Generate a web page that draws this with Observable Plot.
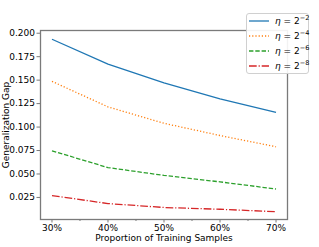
<!DOCTYPE html>
<html>
<head>
<meta charset="utf-8">
<script src="https://cdn.jsdelivr.net/npm/d3@7"></script>
<script src="https://cdn.jsdelivr.net/npm/@observablehq/plot@0.6"></script>
<style>
  body { margin: 0; background: white; }
  #wrap { position: relative; width: 319px; height: 247px; font-family: "DejaVu Sans", sans-serif; }
  #legend { position: absolute; left: 246px; top: 13px; width: 63px; height: 61px; box-sizing: border-box;
    border: 1px solid #d0d0d0; border-radius: 3px; background: rgba(255,255,255,0.9); font-size: 9px; color: #000; }
  .row { position: absolute; left: 2px; height: 14px; display: flex; align-items: center; }
  .row svg { display: block; }
  .lab { margin-left: 6px; white-space: nowrap; }
  .lab i { font-style: italic; }
  .lab sup { font-size: 6.5px; vertical-align: 4px; line-height: 0; }
</style>
</head>
<body>
<div id="wrap"></div>
<script>
const proportions = [30, 40, 50, 60, 70];
const gapEta2 = [0.1936, 0.167, 0.147, 0.130, 0.1156];
const gapEta4 = [0.1487, 0.1215, 0.104, 0.091, 0.079];
const gapEta6 = [0.0747, 0.0568, 0.0485, 0.0416, 0.034];
const gapEta8 = [0.027, 0.0185, 0.0143, 0.0124, 0.0098];
const seriesNames = ["2^-2", "2^-4", "2^-6", "2^-8"];
const seriesExp = ["−2", "−4", "−6", "−8"];
const seriesColors = ["#1f77b4", "#ff7f0e", "#2ca02c", "#d62728"];
const seriesDash = [null, "1.2,2", "4.4,1.9", "7.7,1.9,1.2,1.9"];
const yTicks = [0.025, 0.05, 0.075, 0.1, 0.125, 0.15, 0.175, 0.2];
const xTicks = [30, 40, 50, 60, 70];
const xMinor = [35, 45, 55, 65];

const allSeries = [gapEta2, gapEta4, gapEta6, gapEta8];
const data = [];
allSeries.forEach((vals, i) => vals.forEach((v, j) => data.push({s: seriesNames[i], x: proportions[j], y: v})));

const lineMarks = allSeries.map((vals, i) =>
  Plot.line(data.filter(d => d.s === seriesNames[i]), {
    x: "x", y: "y", stroke: seriesColors[i], strokeWidth: 1.3,
    strokeDasharray: seriesDash[i] || undefined, strokeLinecap: "butt"
  })
);

const axisGrey = "#7a7a7a";
const chart = Plot.plot({
  width: 319, height: 247,
  marginLeft: 40, marginRight: 32, marginTop: 30, marginBottom: 28,
  style: {fontFamily: "DejaVu Sans, sans-serif", fontSize: "9px", color: "#000", background: "white", overflow: "visible"},
  x: {domain: [27.95, 72.05]},
  y: {domain: [0.0015, 0.2029]},
  marks: [
    ...lineMarks,
    Plot.frame({stroke: axisGrey, strokeWidth: 1.3}),
    Plot.axisY({ticks: yTicks, tickFormat: d3.format(".3f"), tickSize: 3.5, tickPadding: 2, label: null, stroke: axisGrey, fill: "#000"}),
    Plot.axisX({ticks: xTicks, tickFormat: d => d + "%", tickSize: 3.5, tickPadding: 2, label: null, stroke: axisGrey, fill: "#000"}),
    Plot.axisX({ticks: xMinor, tickFormat: () => "", tickSize: 2, label: null, stroke: axisGrey}),
    Plot.text(["Generalization Gap"], {frameAnchor: "left", rotate: -90, dx: -34, textAnchor: "middle", lineAnchor: "middle", text: d => d, fill: "#000", fontSize: 9}),
    Plot.text(["Proportion of Training Samples"], {frameAnchor: "bottom", dy: 15, text: d => d, fill: "#000", fontSize: 9, lineAnchor: "top"})
  ]
});
const wrap = document.getElementById("wrap");
wrap.appendChild(chart);

const legend = document.createElement("div");
legend.id = "legend";
seriesNames.forEach((n, i) => {
  const row = document.createElement("div");
  row.className = "row";
  row.style.top = (i * 15 - 0.5) + "px";
  const dash = seriesDash[i] ? `stroke-dasharray="${seriesDash[i]}"` : "";
  row.innerHTML = `<svg width="20" height="6"><line x1="0" y1="3" x2="20" y2="3" stroke="${seriesColors[i]}" stroke-width="1.3" ${dash}/></svg>` +
    `<span class="lab"><i>η</i> = 2<sup>${seriesExp[i]}</sup></span>`;
  legend.appendChild(row);
});
wrap.appendChild(legend);
</script>
</body>
</html>
